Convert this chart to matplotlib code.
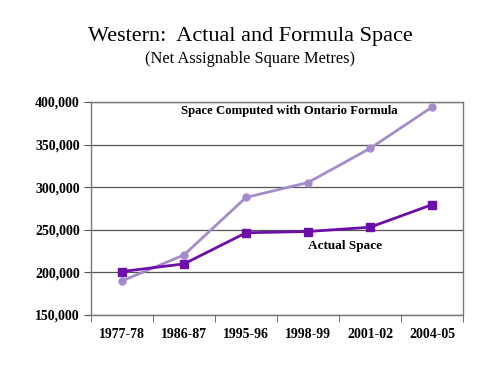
import numpy as np
import matplotlib
matplotlib.use("Agg")
import matplotlib.pyplot as plt
from matplotlib.ticker import FuncFormatter

plt.rcParams['font.family'] = ['Liberation Serif', 'DejaVu Serif']

years = ['1977-78', '1986-87', '1995-96', '1998-99', '2001-02', '2004-05']
formula_space = [190000, 220500, 288000, 305500, 345500, 394000]
actual_space = [201000, 210000, 246500, 248000, 253000, 279500]

fig = plt.figure(figsize=(5, 3.75), dpi=100)
ax = fig.add_axes([0.182, 0.16, 0.744, 0.568])

x = np.arange(len(years))
ax.plot(x, formula_space, color='#a68bcc', lw=2, marker='o', ms=5,
        markerfacecolor='#a68bcc', markeredgecolor='#a68bcc', zorder=3)
ax.plot(x, actual_space, color='#6c0fa8', lw=2, marker='s', ms=5.5,
        markerfacecolor='#6c0fa8', markeredgecolor='#6c0fa8', zorder=4)

ax.set_xlim(-0.5, len(years) - 0.5)
ax.set_ylim(150000, 400000)
ax.set_yticks(np.arange(150000, 400001, 50000))
ax.yaxis.set_major_formatter(FuncFormatter(lambda v, p: f'{int(v):,}'))
ax.grid(axis='y', color='#555555', lw=0.9)
ax.set_axisbelow(True)

# category labels between boundary ticks
ax.set_xticks(x)
ax.set_xticklabels(years)
ax.set_xticks(np.arange(-0.5, len(years), 1), minor=True)
ax.tick_params(axis='x', which='major', length=0, pad=9)
ax.tick_params(axis='x', which='minor', length=5, color='#555555', direction='out')
ax.tick_params(axis='y', length=5, color='#555555', direction='out', pad=3)
for lab in ax.get_xticklabels() + ax.get_yticklabels():
    lab.set_fontweight('bold')
    lab.set_fontsize(10)

for s in ax.spines.values():
    s.set_color('#777777')
    s.set_linewidth(1)

ax.text(2.7, 389500, 'Space Computed with Ontario Formula', ha='center', va='center',
        fontsize=9.2, fontweight='bold')
ax.text(3.6, 231000, 'Actual Space', ha='center', va='center',
        fontsize=9.5, fontweight='bold')

fig.text(0.5, 0.903, 'Western:  Actual and Formula Space', ha='center', va='center', fontsize=16)
fig.text(0.5, 0.843, '(Net Assignable Square Metres)', ha='center', va='center', fontsize=11.8)

fig.savefig('out.png', dpi=100)
